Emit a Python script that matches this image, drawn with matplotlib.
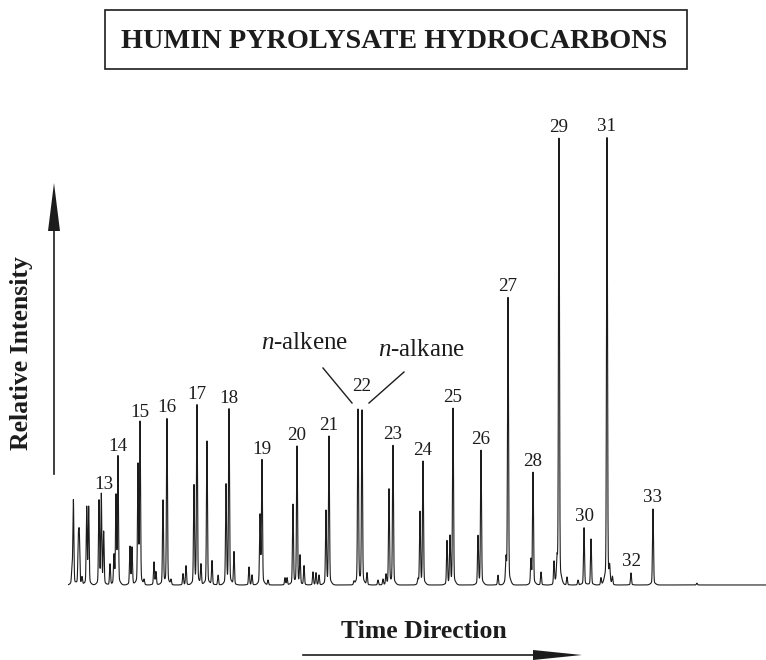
import numpy as np
import matplotlib
matplotlib.use('Agg')
import matplotlib.pyplot as plt
from matplotlib.patches import Polygon, Rectangle
from matplotlib.lines import Line2D

# peaks: retention time (0-100 across the trace),
# relative intensity (tallest peak = 100) and carbon-number label
peak_time = [0.57, 0.77, 1.48, 1.62, 2.0, 2.68, 2.96, 4.44, 4.77, 5.11,
             6.02, 6.59, 6.88, 7.16, 8.88, 9.17, 10.03, 10.32, 10.9, 12.32,
             12.6, 13.61, 14.18, 14.76, 16.48, 16.91, 18.05, 18.48, 19.05, 19.91,
             20.63, 21.5, 22.64, 23.07, 23.78, 25.93, 26.36, 27.51, 27.79, 28.65,
             31.09, 31.38, 32.23, 32.81, 33.24, 33.81, 35.1, 35.53, 35.96, 36.96,
             37.39, 40.97, 41.55, 42.12, 42.84, 44.41, 45.13, 45.56, 45.99, 46.56,
             50.14, 50.43, 50.86, 54.3, 54.73, 55.16, 58.74, 59.17, 61.6, 62.75,
             63.04, 66.33, 66.62, 67.77, 69.63, 70.06, 70.34, 71.49, 73.07, 73.93,
             74.93, 76.36, 77.22, 77.6, 78.0, 80.66, 83.81, 90.1]
peak_height = [3.4, 18.9, 9.7, 10.6, 1.6, 17.2, 17.2, 18.6, 19.9, 11.6,
               4.7, 6.3, 19.5, 28.4, 8.5, 8.3, 26.4, 36.0, 1.1, 5.1,
               2.9, 18.8, 37.1, 1.1, 2.5, 4.3, 21.9, 40.0, 4.5, 32.2,
               5.4, 2.2, 22.1, 39.1, 7.4, 4.0, 2.2, 15.2, 27.7, 1.1,
               1.6, 1.6, 17.9, 30.9, 6.3, 4.3, 2.9, 2.7, 2.2, 16.3,
               33.1, 0.7, 39.1, 38.9, 2.7, 1.1, 1.3, 2.2, 21.3, 31.1,
               1.1, 16.1, 27.5, 9.8, 10.5, 39.4, 10.7, 30.0, 2.2, 5.1,
               64.2, 5.4, 25.1, 2.9, 5.1, 4.5, 99.8, 1.8, 1.1, 12.8,
               10.3, 1.6, 100.0, 3.0, 1.8, 2.7, 17.0, 0.4]
peak_label = ['', '', '', '', '', '', '', '', '13', '',
              '', '', '', '14', '', '', '', '15', '', '',
              '', '', '16', '', '', '', '', '17', '', '',
              '', '', '', '18', '', '', '', '', '19', '',
              '', '', '', '20', '', '', '', '', '', '',
              '21', '', '', '22', '', '', '', '', '', '23',
              '', '', '24', '', '', '25', '', '26', '', '',
              '27', '', '28', '', '', '', '29', '', '', '30',
              '', '', '31', '', '', '32', '33', '']

plt.rcParams['font.family'] = 'Liberation Serif'
plt.rcParams['mathtext.fontset'] = 'custom'
plt.rcParams['mathtext.rm'] = 'Liberation Serif'
plt.rcParams['mathtext.it'] = 'Liberation Serif:italic'

W, H = 766, 660
fig = plt.figure(figsize=(W / 100, H / 100), dpi=100)
inch = fig.dpi_scale_trans


def pt(x, y):
    # image pixel -> inches from bottom left
    return x / 100, (H - y) / 100


ax = fig.add_axes([68 / W, (H - 600) / H, 698 / W, 480 / H])
t = np.linspace(0, 100, 20001)
signal = np.zeros_like(t)
for c, h in zip(peak_time, peak_height):
    signal += h * (0.96 * np.exp(-0.5 * ((t - c) / 0.07) ** 2)
                   + 0.04 * np.exp(-0.5 * ((t - c) / 0.3) ** 2))
ax.plot(t, signal, color='#1c1c1c', lw=0.8)
ax.set_xlim(0, 100)
ax.set_ylim(-3.36, 104.0)
ax.axis('off')

for c, h, lab in zip(peak_time, peak_height, peak_label):
    if not lab:
        continue
    dx, dy = 0, 5
    if lab == '13':
        dx = 1.5
    if lab == '22':
        dy = 14.5
    ax.annotate(lab, (c, h), xytext=(dx, dy), textcoords='offset points',
                ha='center', va='baseline', fontsize=13.7, color='#1c1c1c')

# n-alkene / n-alkane callouts for peak 22
fig.text(*pt(305, 349), '$n$-alkene', transform=inch, ha='center', va='baseline',
         fontsize=18, color='#1c1c1c')
fig.text(*pt(422, 356), '$n$-alkane', transform=inch, ha='center', va='baseline',
         fontsize=18, color='#1c1c1c')
for (x0, y0), (x1, y1) in [((323, 368), (352, 403)), ((404, 372), (369, 403))]:
    a, b = pt(x0, y0), pt(x1, y1)
    fig.add_artist(Line2D([a[0], b[0]], [a[1], b[1]], transform=inch,
                          color='#1c1c1c', lw=1.0))

# title box
fig.add_artist(Rectangle(pt(105, 69), 5.82, 0.59, transform=inch, fill=False,
                         edgecolor='#1c1c1c', lw=1.2))
fig.text(*pt(394, 48), 'HUMIN PYROLYSATE HYDROCARBONS', transform=inch,
         ha='center', va='baseline', fontsize=20.3, fontweight='bold', color='#1c1c1c')

# intensity arrow
a, b = pt(54, 474), pt(54, 228)
fig.add_artist(Line2D([a[0], b[0]], [a[1], b[1]], transform=inch, color='#1c1c1c', lw=1.2))
fig.add_artist(Polygon([pt(48, 231), pt(60, 231), pt(54, 183)], closed=True,
                       transform=inch, color='#1c1c1c', lw=0))
fig.text(*pt(22, 353), 'Relative Intensity', transform=inch, rotation=90,
         ha='center', va='center', fontsize=18.5, fontweight='bold', color='#1c1c1c')

# time arrow
a, b = pt(303, 655), pt(536, 655)
fig.add_artist(Line2D([a[0], b[0]], [a[1], b[1]], transform=inch, color='#1c1c1c', lw=1.2))
fig.add_artist(Polygon([pt(533, 650), pt(533, 660), pt(582, 655)], closed=True,
                       transform=inch, color='#1c1c1c', lw=0))
fig.text(*pt(424, 638), 'Time Direction', transform=inch, ha='center', va='baseline',
         fontsize=18.5, fontweight='bold', color='#1c1c1c')

fig.savefig('out.png', dpi=100)
